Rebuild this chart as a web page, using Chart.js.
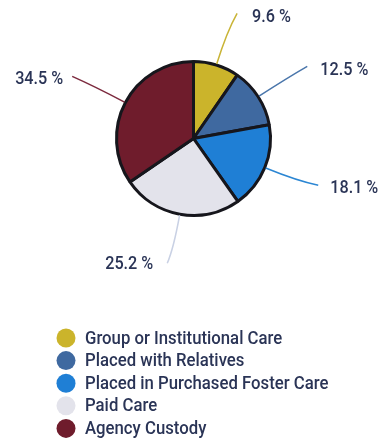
<!DOCTYPE html>
<html>
<head>
<meta charset="utf-8">
<script src="https://cdn.jsdelivr.net/npm/chart.js@4/dist/chart.umd.min.js"></script>
<style>
  html, body { margin: 0; padding: 0; background: #ffffff; }
  #wrap { position: relative; width: 378px; height: 444px; }
</style>
</head>
<body>
<div id="wrap"><canvas id="chart" width="378" height="444"></canvas></div>
<script>
// Placement shares (percent)
const categories = [
  'Group or Institutional Care',
  'Placed with Relatives',
  'Placed in Purchased Foster Care',
  'Paid Care',
  'Agency Custody'
];
const shares = [9.6, 12.5, 18.1, 25.2, 34.5];
const valueLabels = ['9.6 %', '12.5 %', '18.1 %', '25.2 %', '34.5 %'];

const sliceColors = ['#cbb42b', '#3f69a0', '#1f7fd5', '#e3e3eb', '#6f1c2c'];
const leaderColors = ['#c9b436', '#4a76ab', '#2b86d3', '#c9d1e4', '#7c2a3e'];
const textColor = '#2a3456';

// Leader-line end placement around the pie: angle nudge (deg) from slice middle,
// distance from centre, and text offset from the line end.
const leaderLayout = [
  { nudge: 1.9,  dist: 132.6, dx: 15,  dy: 4,   align: 'left'  },
  { nudge: 0.5,  dist: 134.7, dx: 13,  dy: 4,   align: 'left'  },
  { nudge: -1.7, dist: 133.2, dx: 12,  dy: 3.5, align: 'left'  },
  { nudge: 1.6,  dist: 127.5, dx: -14, dy: 1,   align: 'right' },
  { nudge: -0.7, dist: 136.3, dx: -9,  dy: 3.5, align: 'right' }
];

function drawScaledText(ctx, text, x, y, align, sx) {
  ctx.save();
  ctx.translate(x, y);
  ctx.scale(sx, 1);
  ctx.textAlign = align;
  ctx.textBaseline = 'middle';
  ctx.fillText(text, 0, 0);
  ctx.restore();
}

const leaderPlugin = {
  id: 'leaderLabels',
  afterDatasetsDraw(chart) {
    const ctx = chart.ctx;
    const meta = chart.getDatasetMeta(0);
    meta.data.forEach((arc, i) => {
      const p = arc.getProps(['x', 'y', 'startAngle', 'endAngle', 'outerRadius'], true);
      const mid = (p.startAngle + p.endAngle) / 2;
      const lay = leaderLayout[i];
      const endA = mid + lay.nudge * Math.PI / 180;
      const r0 = p.outerRadius + 1;
      const sx = p.x + r0 * Math.cos(mid), sy = p.y + r0 * Math.sin(mid);
      const cx = p.x + 112 * Math.cos(mid), cy = p.y + 112 * Math.sin(mid);
      const ex = p.x + lay.dist * Math.cos(endA), ey = p.y + lay.dist * Math.sin(endA);
      ctx.save();
      ctx.strokeStyle = leaderColors[i];
      ctx.lineWidth = 1.5;
      ctx.beginPath();
      ctx.moveTo(sx, sy);
      ctx.quadraticCurveTo(cx, cy, ex, ey);
      ctx.stroke();
      ctx.fillStyle = textColor;
      ctx.font = '500 18px Roboto';
      drawScaledText(ctx, valueLabels[i], ex + lay.dx, ey + lay.dy, lay.align, 0.9);
      ctx.restore();
    });
  }
};

const legendPlugin = {
  id: 'stackedLegend',
  afterDraw(chart) {
    const ctx = chart.ctx;
    const colors = chart.data.datasets[0].backgroundColor;
    const x0 = 66, y0 = 338, step = 22.6;
    chart.data.labels.forEach((label, i) => {
      const y = y0 + i * step;
      ctx.save();
      ctx.fillStyle = colors[i];
      ctx.beginPath();
      ctx.arc(x0, y, 9.5, 0, Math.PI * 2);
      ctx.fill();
      ctx.fillStyle = textColor;
      ctx.font = '500 18px Roboto';
      drawScaledText(ctx, label, x0 + 19, y + 1, 'left', 0.93);
      ctx.restore();
    });
  }
};

new Chart(document.getElementById('chart'), {
  type: 'pie',
  data: {
    labels: categories,
    datasets: [{
      data: shares,
      backgroundColor: sliceColors,
      borderColor: '#16161c',
      borderWidth: 3
    }]
  },
  options: {
    responsive: false,
    animation: false,
    layout: { padding: { left: 115, right: 106, top: 60, bottom: 227 } },
    plugins: {
      legend: { display: false },
      tooltip: { enabled: false }
    }
  },
  plugins: [leaderPlugin, legendPlugin]
});
</script>
</body>
</html>
